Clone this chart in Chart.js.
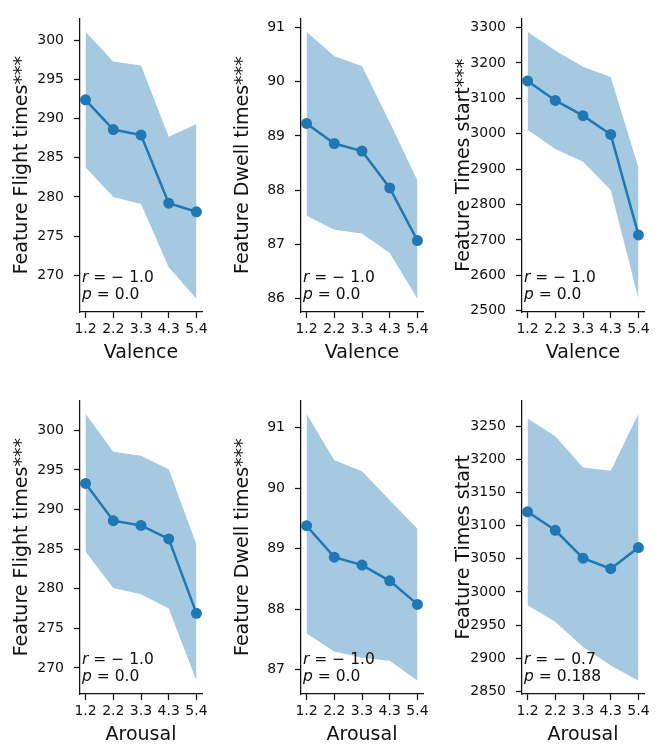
<!DOCTYPE html>
<html>
<head>
<meta charset="utf-8">
<script src="https://cdn.jsdelivr.net/npm/chart.js@4.4.1/dist/chart.umd.min.js"></script>
<style>
  body { margin: 0; background: #fff; width: 670px; height: 749px; overflow: hidden; position: relative; }
  canvas { position: absolute; }
</style>
</head>
<body>
<canvas id="c0" width="223" height="375" style="left:0px;top:0px"></canvas>
<canvas id="c1" width="223" height="375" style="left:221px;top:0px"></canvas>
<canvas id="c2" width="223" height="375" style="left:442px;top:0px"></canvas>
<canvas id="c3" width="223" height="375" style="left:0px;top:382px"></canvas>
<canvas id="c4" width="223" height="375" style="left:221px;top:382px"></canvas>
<canvas id="c5" width="223" height="375" style="left:442px;top:382px"></canvas>
<script>
const xLabels = ['1.2', '2.2', '3.3', '4.3', '5.4']

// valence row
const valenceFlightMean = [292.4, 288.6, 287.9, 279.2, 278.1]
const valenceFlightUpper = [301.1, 297.3, 296.8, 287.7, 289.3]
const valenceFlightLower = [283.8, 280.0, 279.1, 271.0, 267.0]

const valenceDwellMean = [89.23, 88.86, 88.72, 88.04, 87.07]
const valenceDwellUpper = [90.92, 90.47, 90.29, 89.25, 88.18]
const valenceDwellLower = [87.53, 87.27, 87.2, 86.84, 86.0]

const valenceTimesMean = [3149, 3094, 3051, 2998, 2714]
const valenceTimesUpper = [3288, 3235, 3189, 3160, 2904]
const valenceTimesLower = [3011, 2957, 2921, 2841, 2534]

// arousal row
const arousalFlightMean = [293.3, 288.6, 288.0, 286.3, 276.9]
const arousalFlightUpper = [302.1, 297.3, 296.8, 295.1, 285.6]
const arousalFlightLower = [284.7, 280.1, 279.3, 277.5, 268.4]

const arousalDwellMean = [89.38, 88.86, 88.73, 88.47, 88.08]
const arousalDwellUpper = [91.23, 90.46, 90.28, 89.8, 89.33]
const arousalDwellLower = [87.6, 87.3, 87.2, 87.15, 86.82]

const arousalTimesMean = [3121, 3093, 3051, 3035, 3067]
const arousalTimesUpper = [3262, 3235, 3188, 3183, 3269]
const arousalTimesLower = [2980, 2955, 2917, 2889, 2866]

// y tick labels
const flightTicks = [270, 275, 280, 285, 290, 295, 300]
const dwellValenceTicks = [86, 87, 88, 89, 90, 91]
const timesValenceTicks = [2500, 2600, 2700, 2800, 2900, 3000, 3100, 3200, 3300]
const dwellArousalTicks = [87, 88, 89, 90, 91]
const timesArousalTicks = [2850, 2900, 2950, 3000, 3050, 3100, 3150, 3200, 3250]

const blue = '#1f77b4'
const band = 'rgba(31,119,180,0.4)'
const ink = '#111'
const FONT = 'DejaVu Sans'

// r / p annotation in the lower left corner of each panel
const statsText = {
  id: 'statsText',
  afterDatasetsDraw(chart, args, opts) {
    const { ctx, chartArea } = chart
    const x = chartArea.left + 2
    ctx.save()
    ctx.fillStyle = ink
    ctx.textBaseline = 'alphabetic'
    ctx.textAlign = 'left'
    opts.lines.forEach((ln, i) => {
      const y = chartArea.bottom - 30 + i * 17
      ctx.font = 'italic 15.5px "' + FONT + '"'
      ctx.fillText(ln[0], x, y)
      const w = ctx.measureText(ln[0]).width
      ctx.font = '15.5px "' + FONT + '"'
      ctx.fillText(ln[1], x + w, y)
    })
    ctx.restore()
  },
}

function makeChart(id, mean, upper, lower, ticks, yTitle, xTitle, r, p) {
  const lo = Math.min(...lower)
  const hi = Math.max(...upper)
  const pad = (hi - lo) * 0.05
  const pts = (arr) => arr.map((v, i) => ({ x: i, y: v }))

  new Chart(document.getElementById(id), {
    type: 'line',
    data: {
      datasets: [
        {
          data: pts(mean),
          borderColor: blue,
          borderWidth: 2.5,
          pointRadius: 5.5,
          pointBackgroundColor: blue,
          pointBorderWidth: 0,
          fill: false,
          order: 0,
        },
        {
          data: pts(lower),
          borderWidth: 0,
          pointRadius: 0,
          fill: false,
          order: 2,
        },
        {
          data: pts(upper),
          borderWidth: 0,
          pointRadius: 0,
          backgroundColor: band,
          fill: '-1',
          order: 1,
        },
      ],
    },
    options: {
      responsive: false,
      animation: false,
      layout: { padding: { left: 0, top: 5, right: 21, bottom: 0 } },
      plugins: {
        legend: { display: false },
        tooltip: { enabled: false },
        statsText: { lines: [['r', ' = \u2212 ' + r], ['p', ' = ' + p]] },
      },
      scales: {
        x: {
          type: 'linear',
          min: -0.2,
          max: 4.2,
          afterBuildTicks: (s) => { s.ticks = xLabels.map((_, i) => ({ value: i })) },
          afterFit: (s) => { s.height = 63 },
          ticks: {
            autoSkip: false,
            maxRotation: 0,
            padding: 3,
            color: ink,
            font: { family: FONT, size: 14 },
            callback: (v) => xLabels[v],
          },
          grid: { drawOnChartArea: false, drawTicks: true, tickLength: 6, tickColor: ink, tickWidth: 1.25 },
          border: { display: true, color: ink, width: 1.25 },
          title: { display: true, text: xTitle, color: ink, font: { family: FONT, size: 19 }, padding: { bottom: 11 } },
        },
        y: {
          type: 'linear',
          min: lo - pad,
          max: hi + pad,
          afterBuildTicks: (s) => { s.ticks = ticks.map((v) => ({ value: v })) },
          afterFit: (s) => { s.width = 80 },
          ticks: {
            padding: 10,
            color: ink,
            font: { family: FONT, size: 14 },
            callback: (v) => String(v),
          },
          grid: { drawOnChartArea: false, drawTicks: true, tickLength: 6, tickColor: ink, tickWidth: 1.25 },
          border: { display: true, color: ink, width: 1.25 },
          title: { display: true, text: yTitle, color: ink, font: { family: FONT, size: 19 }, padding: { top: 11 } },
        },
      },
    },
    plugins: [statsText],
  })
}

makeChart('c0', valenceFlightMean, valenceFlightUpper, valenceFlightLower, flightTicks, 'Feature Flight times***', 'Valence', '1.0', '0.0')
makeChart('c1', valenceDwellMean, valenceDwellUpper, valenceDwellLower, dwellValenceTicks, 'Feature Dwell times***', 'Valence', '1.0', '0.0')
makeChart('c2', valenceTimesMean, valenceTimesUpper, valenceTimesLower, timesValenceTicks, 'Feature Times start***', 'Valence', '1.0', '0.0')
makeChart('c3', arousalFlightMean, arousalFlightUpper, arousalFlightLower, flightTicks, 'Feature Flight times***', 'Arousal', '1.0', '0.0')
makeChart('c4', arousalDwellMean, arousalDwellUpper, arousalDwellLower, dwellArousalTicks, 'Feature Dwell times***', 'Arousal', '1.0', '0.0')
makeChart('c5', arousalTimesMean, arousalTimesUpper, arousalTimesLower, timesArousalTicks, 'Feature Times start', 'Arousal', '0.7', '0.188')
</script>
</body>
</html>
